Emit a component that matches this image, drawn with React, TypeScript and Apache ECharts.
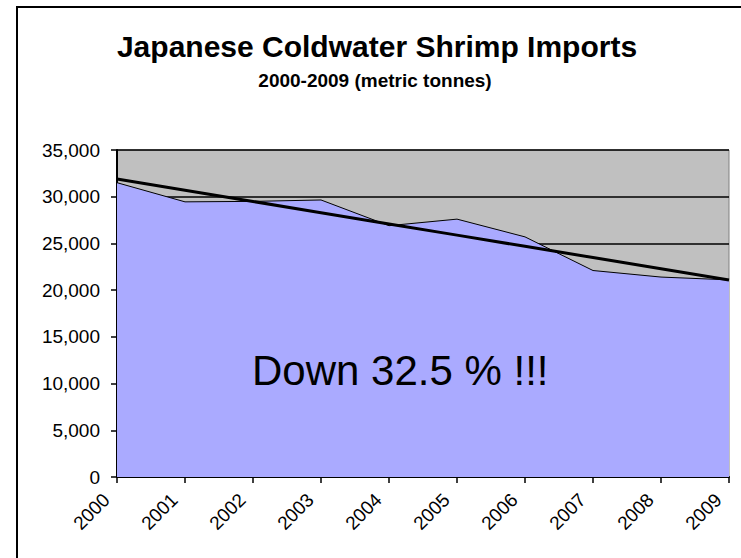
import React, { useEffect, useRef } from "react";
import * as echarts from "echarts";

const years = ["2000", "2001", "2002", "2003", "2004", "2005", "2006", "2007", "2008", "2009"];
const imports = [31500, 29450, 29500, 29650, 26900, 27600, 25700, 22100, 21400, 21100];
const yTicks = { min: 0, max: 35000, interval: 5000 };
const titleText = "Japanese Coldwater Shrimp Imports";
const subtitleText = "2000-2009 (metric tonnes)";
const noteText = "Down 32.5 % !!!";

const FONT = "Arial, 'Liberation Sans', sans-serif";

// Linear (least squares) trendline through the imports series, as Excel draws it
function linearTrend(values: number[]): number[] {
  const n = values.length;
  const xs = values.map((_, i) => i);
  const mx = xs.reduce((a, b) => a + b, 0) / n;
  const my = values.reduce((a, b) => a + b, 0) / n;
  let num = 0;
  let den = 0;
  for (let i = 0; i < n; i++) {
    num += (xs[i] - mx) * (values[i] - my);
    den += (xs[i] - mx) * (xs[i] - mx);
  }
  const slope = num / den;
  const intercept = my - slope * mx;
  return xs.map((x) => intercept + slope * x);
}

export default function App() {
  const ref = useRef<HTMLDivElement>(null);

  useEffect(() => {
    if (!ref.current) return;
    const chart = echarts.init(ref.current, null, { renderer: "svg" });
    const trend = linearTrend(imports);
    chart.setOption({
      animation: false,
      backgroundColor: "#ffffff",
      grid: {
        left: 117,
        right: 12,
        top: 150,
        bottom: 81,
        show: true,
        backgroundColor: "#C0C0C0",
        borderColor: "#808080",
        borderWidth: 1,
      },
      xAxis: {
        type: "category",
        data: years,
        boundaryGap: false,
        axisLine: { show: true, lineStyle: { color: "#000", width: 2 } },
        axisTick: { show: true, length: 6, lineStyle: { color: "#000", width: 1.5 } },
        axisLabel: {
          rotate: 45,
          margin: 9,
          padding: [0, 15, 0, 0],
          color: "#000",
          fontSize: 19,
          fontFamily: FONT,
        },
        splitLine: { show: false },
      },
      yAxis: {
        type: "value",
        min: yTicks.min,
        max: yTicks.max,
        interval: yTicks.interval,
        axisLine: { show: true, lineStyle: { color: "#000", width: 2 } },
        axisTick: { show: true, length: 6, lineStyle: { color: "#000", width: 1.5 } },
        axisLabel: {
          margin: 17,
          color: "#000",
          fontSize: 19,
          fontFamily: FONT,
          formatter: (v: number) => v.toLocaleString("en-US"),
        },
        splitLine: { show: true, lineStyle: { color: "#000", width: 1.5 } },
      },
      series: [
        {
          name: "Imports",
          type: "line",
          data: imports,
          symbol: "none",
          lineStyle: { color: "#000", width: 1 },
          areaStyle: { color: "#AAAAFF", opacity: 1 },
          z: 2,
        },
        {
          name: "Trend",
          type: "line",
          data: trend,
          symbol: "none",
          lineStyle: { color: "#000", width: 3 },
          z: 3,
        },
      ],
      graphic: [
        {
          type: "rect",
          shape: { x: 17, y: 7, width: 900, height: 800 },
          style: { fill: "none", stroke: "#000", lineWidth: 2 },
          z: 100,
        },
        {
          type: "text",
          x: 377,
          y: 46,
          style: {
            text: titleText,
            font: `bold 30px ${FONT}`,
            fill: "#000",
            align: "center",
            verticalAlign: "middle",
          },
          z: 100,
        },
        {
          type: "text",
          x: 375,
          y: 80,
          style: {
            text: subtitleText,
            font: `bold 19px ${FONT}`,
            fill: "#000",
            align: "center",
            verticalAlign: "middle",
          },
          z: 100,
        },
        {
          type: "text",
          x: 252,
          y: 370,
          style: {
            text: noteText,
            font: `42px ${FONT}`,
            fill: "#000",
            align: "left",
            verticalAlign: "middle",
          },
          z: 100,
        },
      ],
    });
    return () => chart.dispose();
  }, []);

  return (
    <div
      ref={ref}
      style={{ position: "absolute", left: 0, top: 0, width: 741, height: 558 }}
    />
  );
}
